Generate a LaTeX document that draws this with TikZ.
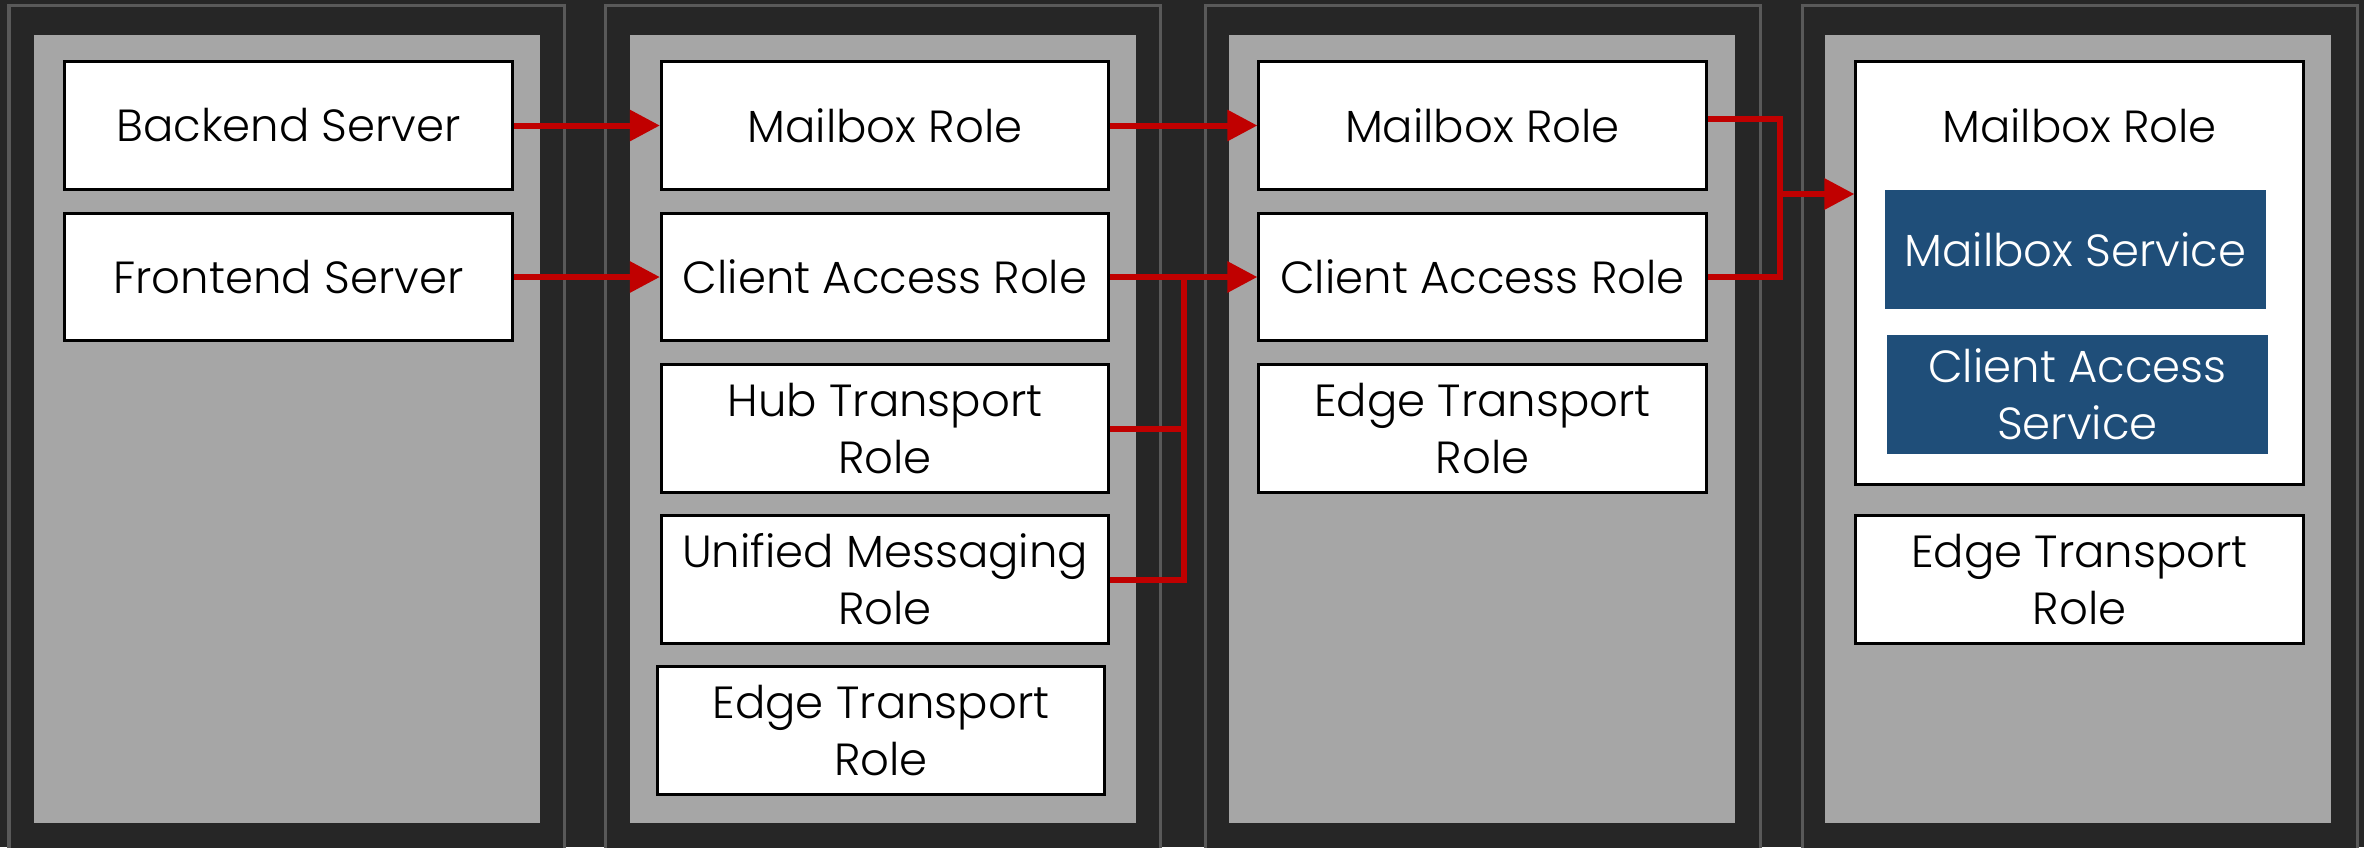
\documentclass[tikz,border=0pt]{standalone}
\usepackage{fontspec}
\setmainfont{Poppins}[UprightFont={* Light}]
\usetikzlibrary{arrows.meta,calc}
\definecolor{bgdark}{HTML}{262626}
\definecolor{panelline}{HTML}{595959}
\definecolor{panelfill}{HTML}{A6A6A6}
\definecolor{arrowred}{HTML}{C00000}
\definecolor{svcblue}{HTML}{1F4E79}
\begin{document}
\begin{tikzpicture}[x=0.01cm,y=-0.01cm,
  rolebox/.style={draw=black, line width=0.03cm, fill=white, minimum width=4.47cm,
    minimum height=1.27cm, inner sep=0pt, align=center,
    font=\fontsize{12.8}{16.2}\selectfont, text=black},
  svcbox/.style={fill=svcblue, minimum width=3.81cm, minimum height=1.19cm,
    inner sep=0pt, align=center, font=\fontsize{12.8}{16.2}\selectfont, text=white},
  outerpanel/.style={fill=bgdark, draw=panelline, line width=0.03cm},
  innerpanel/.style={fill=panelfill},
  wire/.style={draw=arrowred, line width=0.06cm},
  conn/.style={wire, -{Triangle[length=0.3cm,width=0.3cm]}}
]
\useasboundingbox (0,0) rectangle (2364,847);
\clip (0,0) rectangle (2364,847);
\fill[bgdark] (0,0) rectangle (2364,847);
% panels
\foreach \ox/\ix in {9/33.5, 605/629.5, 1205/1228.5, 1802/1825} {
  \draw[outerpanel] (\ox,5) rectangle ++(555,900);
  \fill[innerpanel] (\ix,35) rectangle ++(506,788);
}
% column 1
\node[rolebox] (backend) at (288.5,125.5) {Backend Server};
\node[rolebox] (frontend) at (288.5,277) {Frontend Server};
% column 2
\node[rolebox] (mb2) at (885,125.5) {Mailbox Role};
\node[rolebox] (ca2) at (885,277) {Client Access Role};
\node[rolebox] (hub2) at (885,428.5) {Hub Transport\\Role};
\node[rolebox] (um2) at (885,579.5) {Unified Messaging\\Role};
\node[rolebox] (edge2) at (881,730.5) {Edge Transport\\Role};
% column 3
\node[rolebox] (mb3) at (1482.5,125.5) {Mailbox Role};
\node[rolebox] (ca3) at (1482.5,277) {Client Access Role};
\node[rolebox] (edge3) at (1482.5,428.5) {Edge Transport\\Role};
% column 4
\node[rolebox, minimum height=4.22cm] (mb4) at (2079.5,273) {};
\node[font=\fontsize{12.8}{16.2}\selectfont, inner sep=0pt] (mb4t) at (2079.5,126) {Mailbox Role};
\node[svcbox] (mbsvc) at (2075.5,249.5) {Mailbox Service};
\node[svcbox] (casvc) at (2077.5,394.5) {Client Access\\Service};
\node[rolebox] (edge4) at (2079.5,579.5) {Edge Transport\\Role};
% connectors
\coordinate (j1) at (1184,277);
\coordinate (j2) at (1780,194);
\draw[conn] (backend.east) -- (mb2.west);
\draw[conn] (frontend.east) -- (ca2.west);
\draw[conn] (mb2.east) -- (mb3.west);
\draw[conn] (ca2.east) -- (ca3.west);
\draw[wire] (hub2.east) -| (j1);
\draw[wire] (um2.east) -| (j1);
\draw[wire] ([yshift=0.065cm]mb3.east) -| (j2);
\draw[wire] (ca3.east) -| (j2);
\draw[conn] (j2) -- (mb4.west |- j2);
\end{tikzpicture}
\end{document}
